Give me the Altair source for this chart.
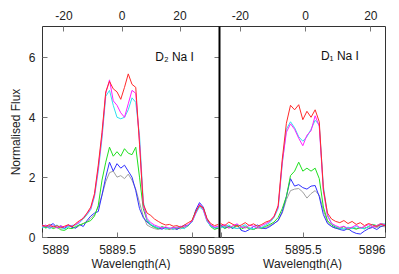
import altair as alt
import pandas as pd

# ---------------- data ----------------
series_names = ["gray", "blue", "green", "cyan", "magenta", "red"]
series_colors = ["#a0a0a0", "#3030ff", "#20e020", "#30e0f0", "#ff20ff", "#ff2a2a"]

wl_d2 = [5889.000, 5889.025, 5889.050, 5889.075, 5889.100, 5889.125, 5889.150, 5889.175,
         5889.200, 5889.225, 5889.250, 5889.275, 5889.300, 5889.325, 5889.350, 5889.375,
         5889.400, 5889.425, 5889.450, 5889.475, 5889.500, 5889.525, 5889.550, 5889.575,
         5889.600, 5889.625, 5889.650, 5889.675, 5889.700, 5889.725, 5889.750, 5889.775,
         5889.800, 5889.825, 5889.850, 5889.875, 5889.900, 5889.925, 5889.950, 5889.975,
         5890.000, 5890.025, 5890.050, 5890.075, 5890.100, 5890.125, 5890.150, 5890.175]

d2_red = [0.40, 0.35, 0.42, 0.33, 0.38, 0.30, 0.36, 0.41, 0.34, 0.45, 0.55, 0.62, 0.80, 1.00, 1.45, 2.40,
          3.50, 4.85, 5.20, 4.95, 4.85, 4.60, 5.00, 5.45, 5.10, 5.00, 3.10, 1.10, 0.80, 0.72, 0.60, 0.52,
          0.45, 0.40, 0.42, 0.36, 0.38, 0.32, 0.40, 0.48, 0.55, 0.85, 1.05, 0.98, 0.62, 0.45, 0.38, 0.42]
d2_magenta = [0.35, 0.40, 0.32, 0.38, 0.30, 0.37, 0.33, 0.40, 0.36, 0.42, 0.50, 0.65, 0.78, 0.95, 1.40, 2.30,
              3.40, 4.80, 5.25, 4.55, 4.40, 4.15, 4.00, 4.45, 4.90, 4.80, 3.20, 1.05, 0.62, 0.48, 0.40, 0.35,
              0.30, 0.34, 0.28, 0.32, 0.30, 0.36, 0.33, 0.42, 0.52, 0.80, 1.10, 0.92, 0.55, 0.40, 0.33, 0.36]
d2_cyan = [0.30, 0.36, 0.28, 0.34, 0.40, 0.31, 0.27, 0.35, 0.39, 0.40, 0.48, 0.60, 0.74, 0.92, 1.35, 2.20,
           3.30, 4.70, 4.90, 4.40, 4.00, 3.95, 4.00, 4.25, 4.65, 4.50, 3.40, 1.20, 0.58, 0.42, 0.36, 0.30,
           0.33, 0.27, 0.31, 0.26, 0.34, 0.30, 0.28, 0.40, 0.50, 0.78, 1.00, 0.90, 0.52, 0.36, 0.30, 0.33]
d2_green = [0.38, 0.30, 0.35, 0.28, 0.33, 0.24, 0.22, 0.30, 0.28, 0.35, 0.40, 0.45, 0.50, 0.55, 0.70, 1.05,
            1.90, 2.50, 3.00, 2.70, 2.85, 2.70, 2.95, 2.80, 2.75, 3.00, 2.00, 0.95, 0.55, 0.40, 0.32, 0.28,
            0.35, 0.30, 0.25, 0.33, 0.28, 0.35, 0.30, 0.38, 0.55, 0.85, 1.05, 0.95, 0.58, 0.35, 0.25, 0.30]
d2_blue = [0.42, 0.32, 0.38, 0.45, 0.30, 0.36, 0.28, 0.40, 0.32, 0.30, 0.42, 0.35, 0.55, 0.70, 0.80, 0.85,
           1.40, 2.00, 2.50, 2.20, 2.45, 2.30, 2.40, 2.20, 2.00, 1.55, 0.95, 0.65, 0.50, 0.40, 0.35, 0.30,
           0.26, 0.32, 0.28, 0.30, 0.25, 0.33, 0.40, 0.38, 0.50, 0.90, 1.15, 1.00, 0.60, 0.40, 0.32, 0.28]
d2_gray = [0.33, 0.38, 0.30, 0.35, 0.32, 0.38, 0.30, 0.34, 0.36, 0.30, 0.38, 0.45, 0.52, 0.62, 0.75, 1.00,
           1.40, 1.85, 2.15, 2.20, 2.00, 2.05, 1.95, 2.10, 1.90, 1.60, 1.15, 0.70, 0.40, 0.33, 0.28, 0.25,
           0.30, 0.26, 0.28, 0.25, 0.30, 0.27, 0.35, 0.38, 0.52, 0.82, 1.08, 0.95, 0.55, 0.35, 0.30, 0.28]

wl_d1 = [5895.000, 5895.025, 5895.050, 5895.075, 5895.100, 5895.125, 5895.150, 5895.175,
         5895.200, 5895.225, 5895.250, 5895.275, 5895.300, 5895.325, 5895.350, 5895.375,
         5895.400, 5895.425, 5895.450, 5895.475, 5895.500, 5895.525, 5895.550, 5895.575,
         5895.600, 5895.625, 5895.650, 5895.675, 5895.700, 5895.725, 5895.750, 5895.775,
         5895.800, 5895.825, 5895.850, 5895.875, 5895.900, 5895.925, 5895.950, 5895.975,
         5896.000]

d1_red = [0.45, 0.38, 0.50, 0.42, 0.35, 0.40, 0.48, 0.38, 0.44, 0.36, 0.42, 0.50, 0.55, 0.68, 1.05, 2.60,
          3.80, 4.40, 4.25, 4.42, 3.92, 4.20, 4.00, 4.25, 3.85, 1.60, 0.80, 0.60, 0.52, 0.48, 0.55, 0.45,
          0.52, 0.42, 0.48, 0.38, 0.45, 0.40, 0.35, 0.42, 0.38]
d1_magenta = [0.35, 0.42, 0.30, 0.38, 0.44, 0.33, 0.30, 0.40, 0.36, 0.30, 0.38, 0.45, 0.52, 0.70, 1.00, 2.50,
              3.50, 3.78, 3.60, 3.30, 3.05, 3.40, 3.55, 4.05, 3.70, 1.55, 0.70, 0.45, 0.38, 0.32, 0.36, 0.28,
              0.33, 0.40, 0.30, 0.35, 0.42, 0.33, 0.38, 0.45, 0.40]
d1_cyan = [0.30, 0.36, 0.40, 0.31, 0.28, 0.35, 0.41, 0.30, 0.27, 0.35, 0.32, 0.40, 0.48, 0.65, 0.95, 2.45,
           3.60, 3.85, 3.65, 3.35, 3.20, 3.35, 3.60, 3.90, 3.75, 1.70, 0.75, 0.45, 0.35, 0.30, 0.26, 0.33,
           0.28, 0.35, 0.30, 0.27, 0.36, 0.42, 0.35, 0.40, 0.44]
d1_green = [0.38, 0.28, 0.35, 0.30, 0.40, 0.26, 0.33, 0.28, 0.25, 0.32, 0.30, 0.36, 0.42, 0.50, 0.65, 0.95,
            1.35, 2.05, 2.20, 2.50, 2.20, 2.30, 2.20, 2.30, 1.95, 1.00, 0.55, 0.40, 0.33, 0.28, 0.35, 0.25,
            0.30, 0.26, 0.32, 0.28, 0.35, 0.42, 0.38, 0.45, 0.42]
d1_blue = [0.40, 0.30, 0.35, 0.28, 0.42, 0.22, 0.18, 0.25, 0.35, 0.40, 0.30, 0.28, 0.35, 0.45, 0.55, 0.85,
           1.35, 1.95, 1.70, 1.75, 1.65, 1.60, 1.70, 1.72, 1.35, 0.75, 0.45, 0.35, 0.30, 0.25, 0.22, 0.28,
           0.18, 0.12, 0.10, 0.20, 0.28, 0.32, 0.25, 0.35, 0.40]
d1_gray = [0.32, 0.36, 0.30, 0.34, 0.28, 0.32, 0.36, 0.30, 0.26, 0.30, 0.28, 0.32, 0.38, 0.45, 0.55, 0.80,
           1.25, 1.55, 1.60, 1.62, 1.50, 1.30, 1.45, 1.55, 1.40, 0.90, 0.50, 0.35, 0.28, 0.30, 0.26, 0.30,
           0.32, 0.28, 0.30, 0.33, 0.30, 0.35, 0.32, 0.36, 0.34]

y_ticks = [0, 2, 4, 6]
vel_ticks = [-20, 0, 20]
d2_xticks = [5889, 5889.5, 5890]
d1_xticks = [5895, 5895.5, 5896]

# ---------------- layout ----------------
W1, W2, H = 177, 166, 211
FONT = "Liberation Sans"
YDOM = [0, 7.05]


def long_df(wl, cols):
    rows = []
    for name, vals in zip(series_names, cols):
        for w, f in zip(wl, vals):
            rows.append({"wl": w, "flux": f, "series": name})
    return pd.DataFrame(rows)


df_d2 = long_df(wl_d2, [d2_gray, d2_blue, d2_green, d2_cyan, d2_magenta, d2_red])
df_d1 = long_df(wl_d1, [d1_gray, d1_blue, d1_green, d1_cyan, d1_magenta, d1_red])
df_y = pd.DataFrame({"flux": y_ticks})
df_v = pd.DataFrame({"vel": vel_ticks})

tick_only = dict(labels=False, domain=False, grid=False, ticks=True, tickSize=5,
                 tickColor="#777777", tickWidth=1, title=None)


def panel(df, xdom, xticks, vdom, W, ann, first):
    xs = alt.Scale(domain=xdom, nice=False, zero=False)
    ys = alt.Scale(domain=YDOM, nice=False, zero=False)
    vs = alt.Scale(domain=vdom, nice=False, zero=False)
    color = alt.Color("series:N", scale=alt.Scale(domain=series_names, range=series_colors),
                      legend=None, sort=series_names)

    if first:
        yaxis = alt.Axis(orient="left", values=y_ticks, ticks=False, domain=False, grid=False,
                         labelExpr="datum.value + ''", labelPadding=7,
                         title="Normalised Flux", titlePadding=6)
    else:
        yaxis = alt.Axis(orient="left", values=y_ticks, ticks=False, labels=False, grid=False,
                         domain=True, domainColor="#000000", domainWidth=2, title=None)

    lines = alt.Chart(df).mark_line(strokeWidth=1, clip=True).encode(
        x=alt.X("wl:Q", scale=xs,
                axis=alt.Axis(orient="bottom", values=xticks, ticks=False, domain=False, grid=False,
                              labelExpr="datum.value + ''", labelPadding=7,
                              title="Wavelength(A)", titlePadding=3)),
        y=alt.Y("flux:Q", scale=ys, axis=yaxis),
        color=color,
        order=alt.Order("wl:Q"),
    )

    enc_b = dict(x=alt.X("wl:Q", scale=xs,
                         axis=alt.Axis(orient="top", offset=-H, values=xticks, **tick_only)))
    if first:
        enc_b["y"] = alt.Y("flux:Q", scale=ys,
                           axis=alt.Axis(orient="right", offset=-W, values=y_ticks, **tick_only))
    else:
        enc_b["y"] = alt.Y("flux:Q", scale=ys, axis=None)
    inward_b = alt.Chart(df).mark_point(opacity=0).encode(**enc_b)

    vel_top = alt.Chart(df_v).mark_point(opacity=0).encode(
        x=alt.X("vel:Q", scale=vs,
                axis=alt.Axis(orient="top", values=vel_ticks, ticks=False, domain=False, grid=False,
                              labelExpr="datum.value + ''", labelPadding=4, title=None)),
        y=alt.value(0),
    )
    vel_in = alt.Chart(df_v).mark_point(opacity=0).encode(
        x=alt.X("vel:Q", scale=vs,
                axis=alt.Axis(orient="bottom", offset=-H, values=vel_ticks, **tick_only)),
        y=alt.value(0),
    )

    ann_df = pd.DataFrame({"wl": [ann[0]], "flux": [ann[1]], "txt": [ann[2]]})
    text = alt.Chart(ann_df).mark_text(align="left", baseline="middle", font=FONT,
                                       fontSize=12, color="#111111").encode(
        x=alt.X("wl:Q", scale=xs, axis=None),
        y=alt.Y("flux:Q", scale=ys, axis=None),
        text="txt:N",
    )

    layers = [lines, inward_b, vel_top, vel_in, text]
    if first:
        right_ticks = alt.Chart(df_y).mark_point(opacity=0).encode(
            x=alt.value(0),
            y=alt.Y("flux:Q", scale=ys,
                    axis=alt.Axis(orient="left", offset=-W, values=y_ticks, **tick_only)),
        )
        layers.append(right_ticks)

    return alt.layer(*layers).resolve_scale(x="independent").resolve_axis(
        x="independent", y="independent").properties(width=W, height=H)


left = panel(df_d2, [5889.0, 5890.18], d2_xticks, [-27.4, 33.6], W1,
             (5889.755, 6.02, "D\u2082 Na I"), True)
right = panel(df_d1, [5894.99, 5896.0], d1_xticks, [-26.4, 24.5], W2,
              (5895.61, 6.05, "D\u2081 Na I"), False)

chart = alt.hconcat(left, right, spacing=0, bounds="flush").properties(
    padding={"left": 0, "top": 0, "right": 0, "bottom": 0}
).configure_view(
    stroke="#333333", strokeWidth=1
).configure_axis(
    labelFont=FONT, titleFont=FONT, labelFontSize=12, titleFontSize=12,
    labelColor="#222222", titleColor="#222222", titleFontWeight="normal"
)

chart.save("out.html", embed_options={"renderer": "svg", "actions": False})
